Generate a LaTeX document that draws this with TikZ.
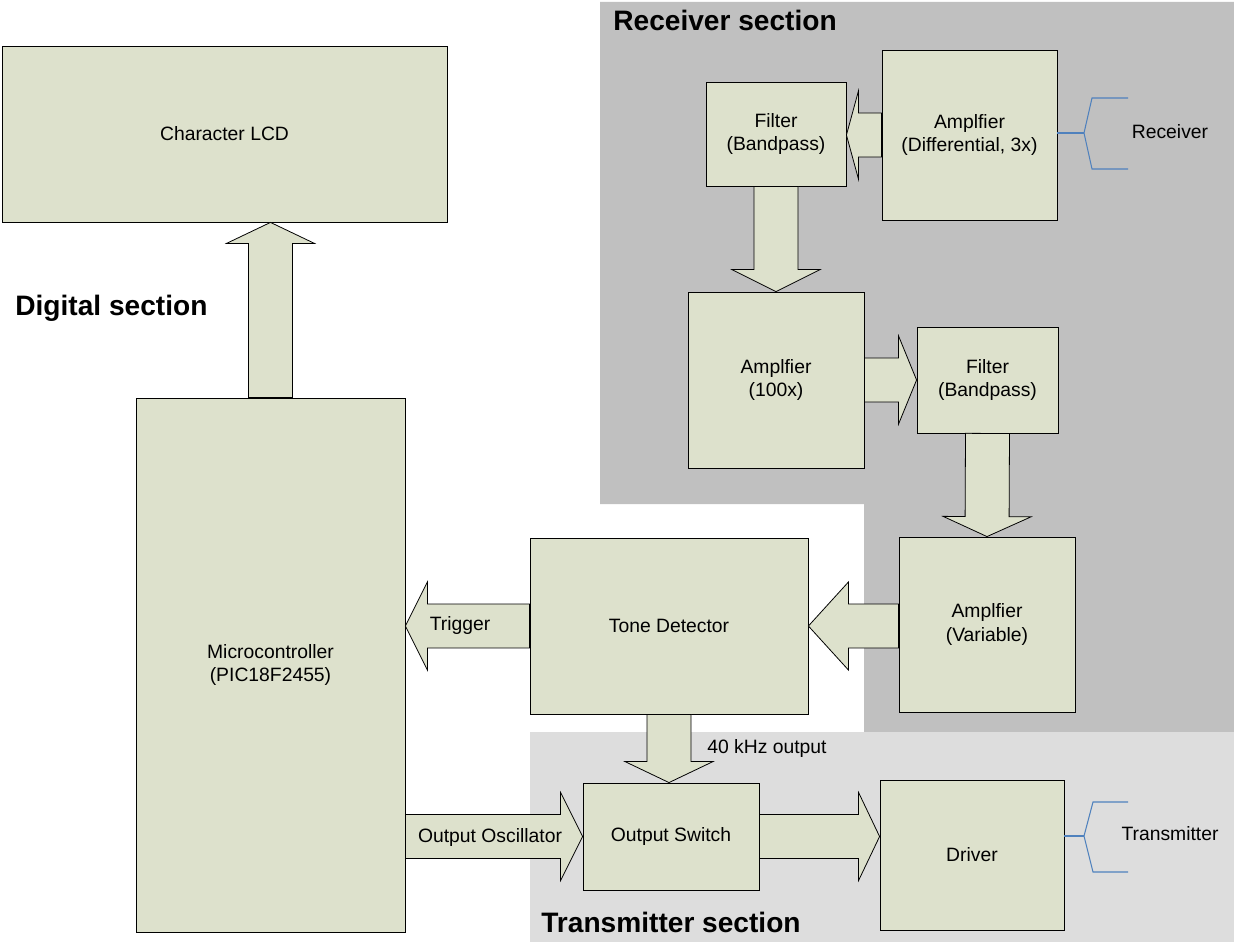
\documentclass[tikz,border=0pt]{standalone}
\usepackage{fontspec}
\setmainfont{Liberation Sans}
\usetikzlibrary{calc}
\definecolor{boxfill}{RGB}{221,225,204}
\definecolor{rxgrey}{RGB}{192,192,192}
\definecolor{txgrey}{RGB}{221,221,221}
\definecolor{wire}{RGB}{79,129,189}
% block arrow: from #1 to tip #2, head length #3
\newcommand{\fatarrow}[3]{%
  \coordinate (hb) at ($(#2)!#3!(#1)$);
  \draw[fatarr] ($(#1)!0.44cm!90:(#2)$) -- ($(hb)!0.44cm!90:(#2)$) -- ($(hb)!0.88cm!90:(#2)$) -- (#2)
    -- ($(hb)!0.88cm!-90:(#2)$) -- ($(hb)!0.44cm!-90:(#2)$) -- ($(#1)!0.44cm!-90:(#2)$) -- cycle;}
\begin{document}
\begin{tikzpicture}[x=0.02cm, y=-0.02cm,
    blk/.style={rectangle, draw=black, fill=boxfill, line width=0.5pt, align=center, font=\fontsize{11}{13.5}\selectfont},
    fatarr/.style={draw=black, fill=boxfill, line width=0.45pt, line join=miter},
    lbl/.style={font=\fontsize{11}{13.5}\selectfont, inner sep=0pt},
    sect/.style={font=\fontsize{16}{19}\selectfont\bfseries, inner sep=0pt}]
    \useasboundingbox (0,0) rectangle (1234,942);

    % section backgrounds
    \fill[rxgrey] (600,2) -- (1234,2) -- (1234,732) -- (864,732) -- (864,504) -- (600,504) -- cycle;
    \fill[txgrey] (530,732) rectangle (1234,942);

    \node[sect, anchor=west] (digsec) at (15,308) {Digital section};
    \node[sect, anchor=west] (rxsec) at (613,20) {Receiver section};
    \node[sect, anchor=west] (txsec) at (541,922) {Transmitter section};

    % blocks
    \node[blk, minimum width=8.9cm, minimum height=3.52cm] (lcd) at (224.5,134) {Character LCD};
    \node[blk, minimum width=5.38cm, minimum height=10.68cm] (micro) at (270.5,665) {Microcontroller\\(PIC18F2455)};
    \node[blk, minimum width=2.8cm, minimum height=2.08cm] (filtA) at (776,134) {Filter\\(Bandpass)};
    \node[blk, minimum width=3.5cm, minimum height=3.4cm] (ampdiff) at (969.5,135) {Amplfier\\(Differential, 3x)};
    \node[blk, minimum width=3.52cm, minimum height=3.52cm] (amp100) at (776,380) {Amplfier\\(100x)};
    \node[blk, minimum width=2.82cm, minimum height=2.12cm] (filtB) at (987.5,380) {Filter\\(Bandpass)};
    \node[blk, minimum width=3.52cm, minimum height=3.5cm] (ampvar) at (987,624.5) {Amplfier\\(Variable)};
    \node[blk, minimum width=5.56cm, minimum height=3.52cm] (tone) at (669,626) {Tone Detector};
    \node[blk, minimum width=3.52cm, minimum height=2.14cm] (switch) at (671,836.5) {Output Switch};
    \node[blk, minimum width=3.68cm, minimum height=3.0cm] (driver) at (972,855) {Driver};

    % arrow ends
    \coordinate (lcdin) at (micro.north |- lcd.south);
    \coordinate (fain) at (filtA.east |- ampdiff.west);
    \coordinate (avout) at (tone.east -| ampvar.west);
    \coordinate (trig) at (micro.east |- tone.west);
    \coordinate (swin) at (tone.south |- switch.north);
    \coordinate (oscout) at (micro.east |- switch.west);
    \coordinate (drvin) at (driver.west |- switch.east);

    \fatarrow{micro.north}{lcdin}{0.42cm}
    \fatarrow{ampdiff.west}{fain}{0.24cm}
    \fatarrow{filtA.south}{amp100.north}{0.44cm}
    \fatarrow{amp100.east}{filtB.west}{0.36cm}
    \fatarrow{filtB.south}{ampvar.north}{0.4cm}
    \fatarrow{avout}{tone.east}{0.8cm}
    \fatarrow{tone.west}{trig}{0.44cm}
    \fatarrow{tone.south}{swin}{0.42cm}
    \fatarrow{oscout}{switch.west}{0.44cm}
    \fatarrow{switch.east}{drvin}{0.42cm}

    \node[lbl] (trigtxt) at (460,626) {Trigger};
    \node[lbl] (osctxt) at (490,837) {Output Oscillator};
    \node[lbl, anchor=west] (khz) at (707,748) {40 kHz output};

    % receiver / transmitter symbols
    \coordinate (rxj) at (1084,133);
    \coordinate (txj) at (1084,836);
    \draw[wire, line width=1.2pt] (ampdiff.east |- rxj) -- (rxj);
    \draw[wire, line width=0.6pt] (1128,98) -- (1092,98) -- (rxj) -- (1092,169) -- (1128,169);
    \draw[wire, line width=1.2pt] (driver.east |- txj) -- (txj);
    \draw[wire, line width=0.6pt] (1128,802) -- (1093,802) -- (txj) -- (1093,872) -- (1128,872);
    \node[lbl] (rxtxt) at (1170,132) {Receiver};
    \node[lbl] (txtxt) at (1170,834) {Transmitter};
\end{tikzpicture}
\end{document}
